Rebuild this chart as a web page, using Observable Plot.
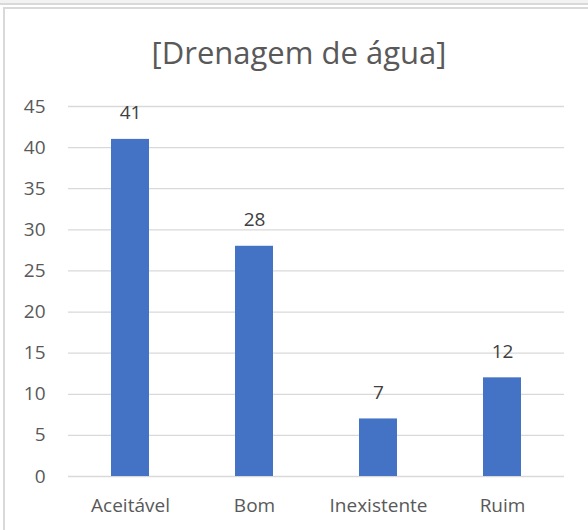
<!DOCTYPE html>
<html>
<head>
<meta charset="utf-8">
<script src="https://cdn.jsdelivr.net/npm/d3@7"></script>
<script src="https://cdn.jsdelivr.net/npm/@observablehq/plot@0.6"></script>
<style>
  html, body { margin: 0; padding: 0; background: #fff; overflow: hidden; }
  body { width: 588px; height: 530px; position: relative; font-family: "Open Sans", "Noto Sans", sans-serif; }
  #topband { position: absolute; left: 0; top: 0; width: 588px; height: 3px; background: #f2f2f2; border-bottom: 2px solid #d9d9d9; }
  #frame { position: absolute; left: 3px; top: 7px; width: 585px; height: 523px; border-left: 2px solid #d9d9d9; border-top: 2px solid #d9d9d9; box-sizing: border-box; }
  #title { position: absolute; left: 0; width: 598px; top: 33px; text-align: center; font-size: 31px; color: #595959; line-height: 38px; }
  #chart { position: absolute; left: 0; top: 80px; }
</style>
</head>
<body>
<div id="topband"></div>
<div id="frame"></div>
<div id="title">[Drenagem de água]</div>
<div id="chart"></div>
<script>
const categories = ["Aceitável", "Bom", "Inexistente", "Ruim"];
const values = [41, 28, 7, 12];
const yTicks = [0, 5, 10, 15, 20, 25, 30, 35, 40, 45];

const data = categories.map((c, i) => ({category: c, value: values[i]}));

const chart = Plot.plot({
  width: 588,
  height: 450,
  marginTop: 26,
  marginBottom: 54,
  marginLeft: 68,
  marginRight: 24,
  style: {fontFamily: "'Open Sans', 'Noto Sans', sans-serif", fontSize: "19px", color: "#595959", background: "transparent"},
  x: {domain: categories, paddingInner: 0.69, paddingOuter: 0.345, label: null},
  y: {domain: [0, 45], ticks: yTicks, label: null},
  marks: [
    Plot.gridY(yTicks, {stroke: "#d9d9d9", strokeOpacity: 1, strokeWidth: 1.3}),
    Plot.axisY(yTicks, {tickSize: 0, tickPadding: 23, fontSize: 19, fill: "#595959", label: null}),
    Plot.axisX({tickSize: 0, tickPadding: 22, fontSize: 19, fill: "#595959", label: null}),
    Plot.barY(data, {x: "category", y: "value", fill: "#4472c4"}),
    Plot.text(data, {x: "category", y: "value", text: d => String(d.value), dy: -26, lineAnchor: "middle", fill: "#404040", fontSize: 19})
  ]
});
document.getElementById("chart").appendChild(chart);
</script>
</body>
</html>
